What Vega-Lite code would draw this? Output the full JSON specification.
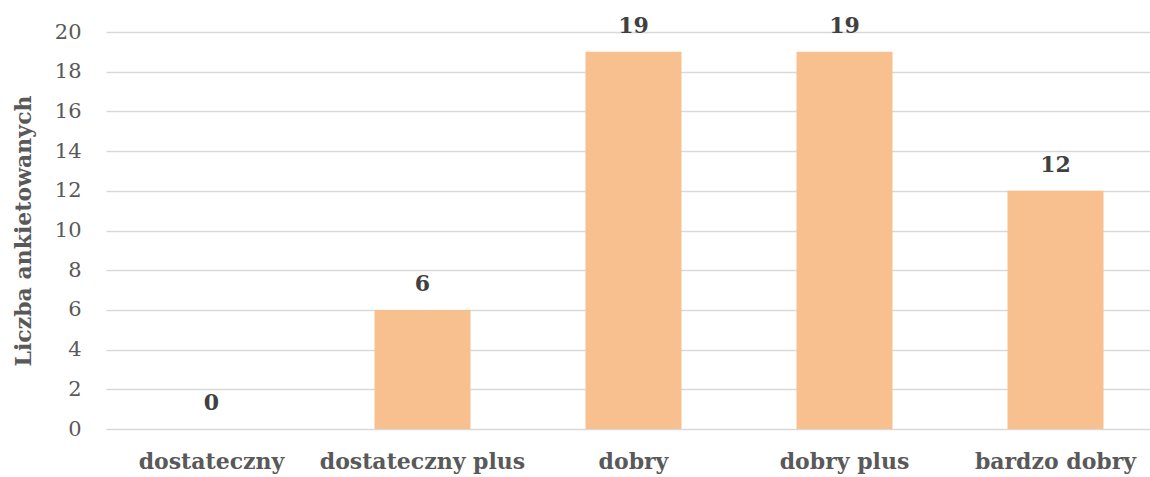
{
  "$schema": "https://vega.github.io/schema/vega-lite/v6.json",
  "autosize": "none",
  "padding": {"left": 106, "top": 32, "right": 0, "bottom": 48},
  "width": 1055,
  "height": 397,
  "background": "white",
  "config": {"view": {"stroke": null}, "font": "DejaVu Serif"},
  "data": {"values": [
    {"ocena": "dostateczny", "liczba": 0},
    {"ocena": "dostateczny plus", "liczba": 6},
    {"ocena": "dobry", "liczba": 19},
    {"ocena": "dobry plus", "liczba": 19},
    {"ocena": "bardzo dobry", "liczba": 12}
  ]},
  "encoding": {
    "x": {"field": "ocena", "type": "nominal", "sort": null,
      "scale": {"paddingInner": 0.545, "paddingOuter": 0.2725},
      "axis": {"title": null, "labelAngle": 0, "domain": false, "ticks": false,
        "labelFont": "DejaVu Serif", "labelFontSize": 22, "labelFontWeight": "bold",
        "labelColor": "#595959", "labelPadding": 22, "labelLimit": 300}},
    "y": {"field": "liczba", "type": "quantitative",
      "scale": {"domain": [0, 20], "nice": false},
      "axis": {"values": [0,2,4,6,8,10,12,14,16,18,20], "title": "Liczba ankietowanych",
        "domain": false, "ticks": false, "gridColor": "#D9D9D9", "gridWidth": 1.3,
        "labelFont": "DejaVu Serif", "labelFontSize": 21, "labelColor": "#595959", "labelPadding": 25,
        "titleFont": "DejaVu Serif", "titleFontSize": 22, "titleFontWeight": "bold", "titleColor": "#595959", "titlePadding": 19}}
  },
  "layer": [
    {"mark": {"type": "bar", "color": "#F8BF8F"}},
    {"mark": {"type": "text", "baseline": "alphabetic", "dy": -19, "font": "DejaVu Serif", "fontSize": 22, "fontWeight": "bold", "color": "#404040"},
     "encoding": {"text": {"field": "liczba", "type": "quantitative"}}}
  ]
}
